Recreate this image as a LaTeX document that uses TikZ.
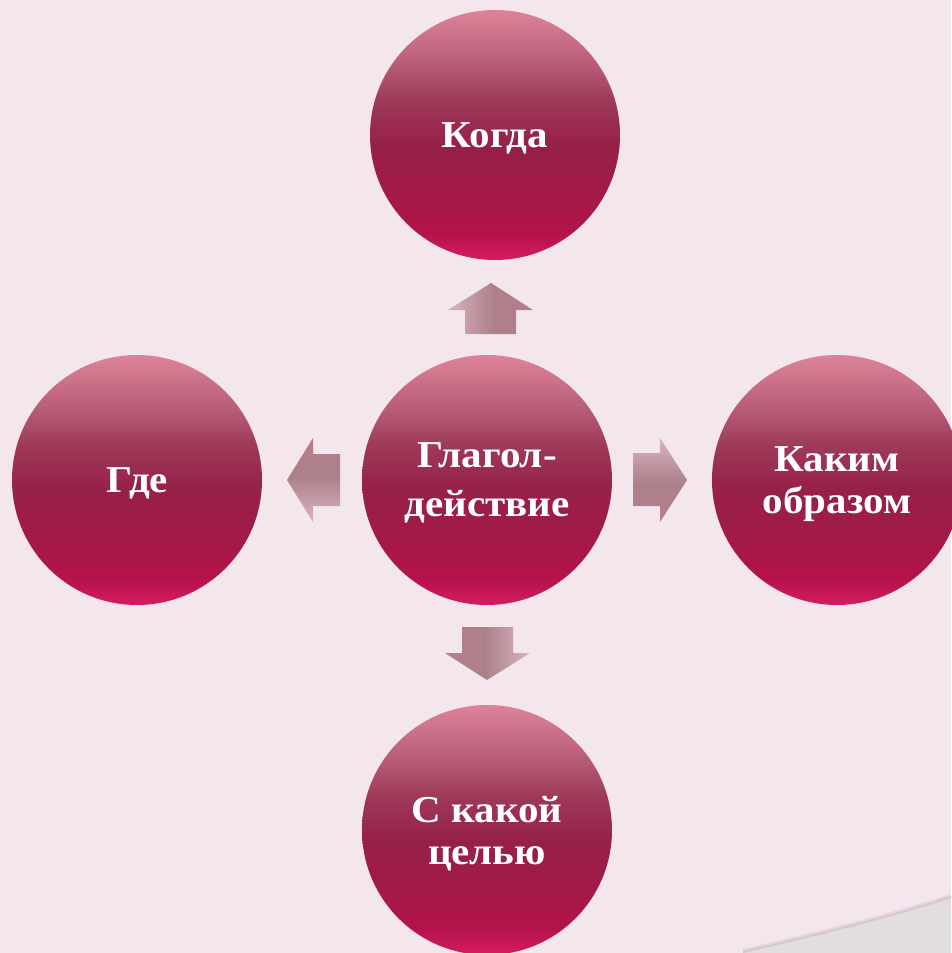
\documentclass[tikz,border=0pt]{standalone}
\usepackage{fontspec}
\setmainfont{Liberation Serif}[FakeStretch=1.08]
\definecolor{bgpink}{RGB}{243,230,237}
\definecolor{curlgray}{RGB}{226,221,223}
\definecolor{curlshadow}{RGB}{205,188,198}
\definecolor{bA}{RGB}{214,28,96}
\definecolor{bB}{RGB}{180,18,75}
\definecolor{bC}{RGB}{165,24,72}
\definecolor{bD}{RGB}{150,32,74}
\definecolor{bE}{RGB}{158,58,88}
\definecolor{bF}{RGB}{182,92,118}
\definecolor{bG}{RGB}{221,131,153}
\definecolor{aTop}{RGB}{216,180,191}
\definecolor{aMid}{RGB}{172,128,138}
\definecolor{aBot}{RGB}{182,126,141}
\pgfdeclareverticalshading{ballshade}{100bp}{color(0bp)=(bA); color(25bp)=(bA); color(30.5bp)=(bB); color(37bp)=(bC); color(48bp)=(bD); color(57bp)=(bE); color(64bp)=(bF); color(75bp)=(bG); color(100bp)=(bG)}
\pgfdeclareverticalshading{arrshade}{100bp}{color(0bp)=(aBot); color(25bp)=(aBot); color(48bp)=(aMid); color(75bp)=(aTop); color(100bp)=(aTop)}
\tikzset{
  ball/.style={circle, minimum size=250pt, inner sep=0pt, shading=ballshade,
    text=white, align=center, text depth=0pt,
    font=\bfseries\fontsize{38}{42}\selectfont},
  blockarrow/.style={shading=arrshade}
}
\begin{document}
\begin{tikzpicture}[x=1pt,y=-1pt]
\useasboundingbox (0,0) rectangle (951,953);
\fill[bgpink] (0,0) rectangle (951,953);
% page curl
\fill[curlgray] (743,953) .. controls (820,935) and (890,918) .. (951,898) -- (951,953) -- cycle;
\draw[curlshadow, line width=4pt, opacity=0.35] (743,951) .. controls (820,933) and (890,916) .. (951,896);
\draw[curlshadow, line width=2pt, opacity=0.6] (743,952) .. controls (820,934) and (890,917) .. (951,897);
% circles
\node[ball] (top) at (495,135) {Когда};
\node[ball] (c) at (487,480) {Глагол-\\[7pt]действие};
\node[ball] (left) at (137,480) {Где};
\node[ball] (right) at (837,480) {Каким\\образом};
\node[ball] (bot) at (487,830) {С какой\\целью};
% block arrows
\path[blockarrow] (633,453) -- (660,453) -- (660,438) -- (687,480) -- (660,522) -- (660,506) -- (633,506) -- cycle;
\path[blockarrow, shading angle=180] (340,454) -- (313,454) -- (313,438) -- (287,480) -- (313,522) -- (313,506) -- (340,506) -- cycle;
\path[blockarrow, shading angle=90] (465,334) -- (465,310) -- (448,310) -- (491,283) -- (533,310) -- (516,310) -- (516,334) -- cycle;
\path[blockarrow, shading angle=270] (462,627) -- (462,653) -- (445,653) -- (487,680) -- (530,653) -- (513,653) -- (513,627) -- cycle;
\end{tikzpicture}
\end{document}
